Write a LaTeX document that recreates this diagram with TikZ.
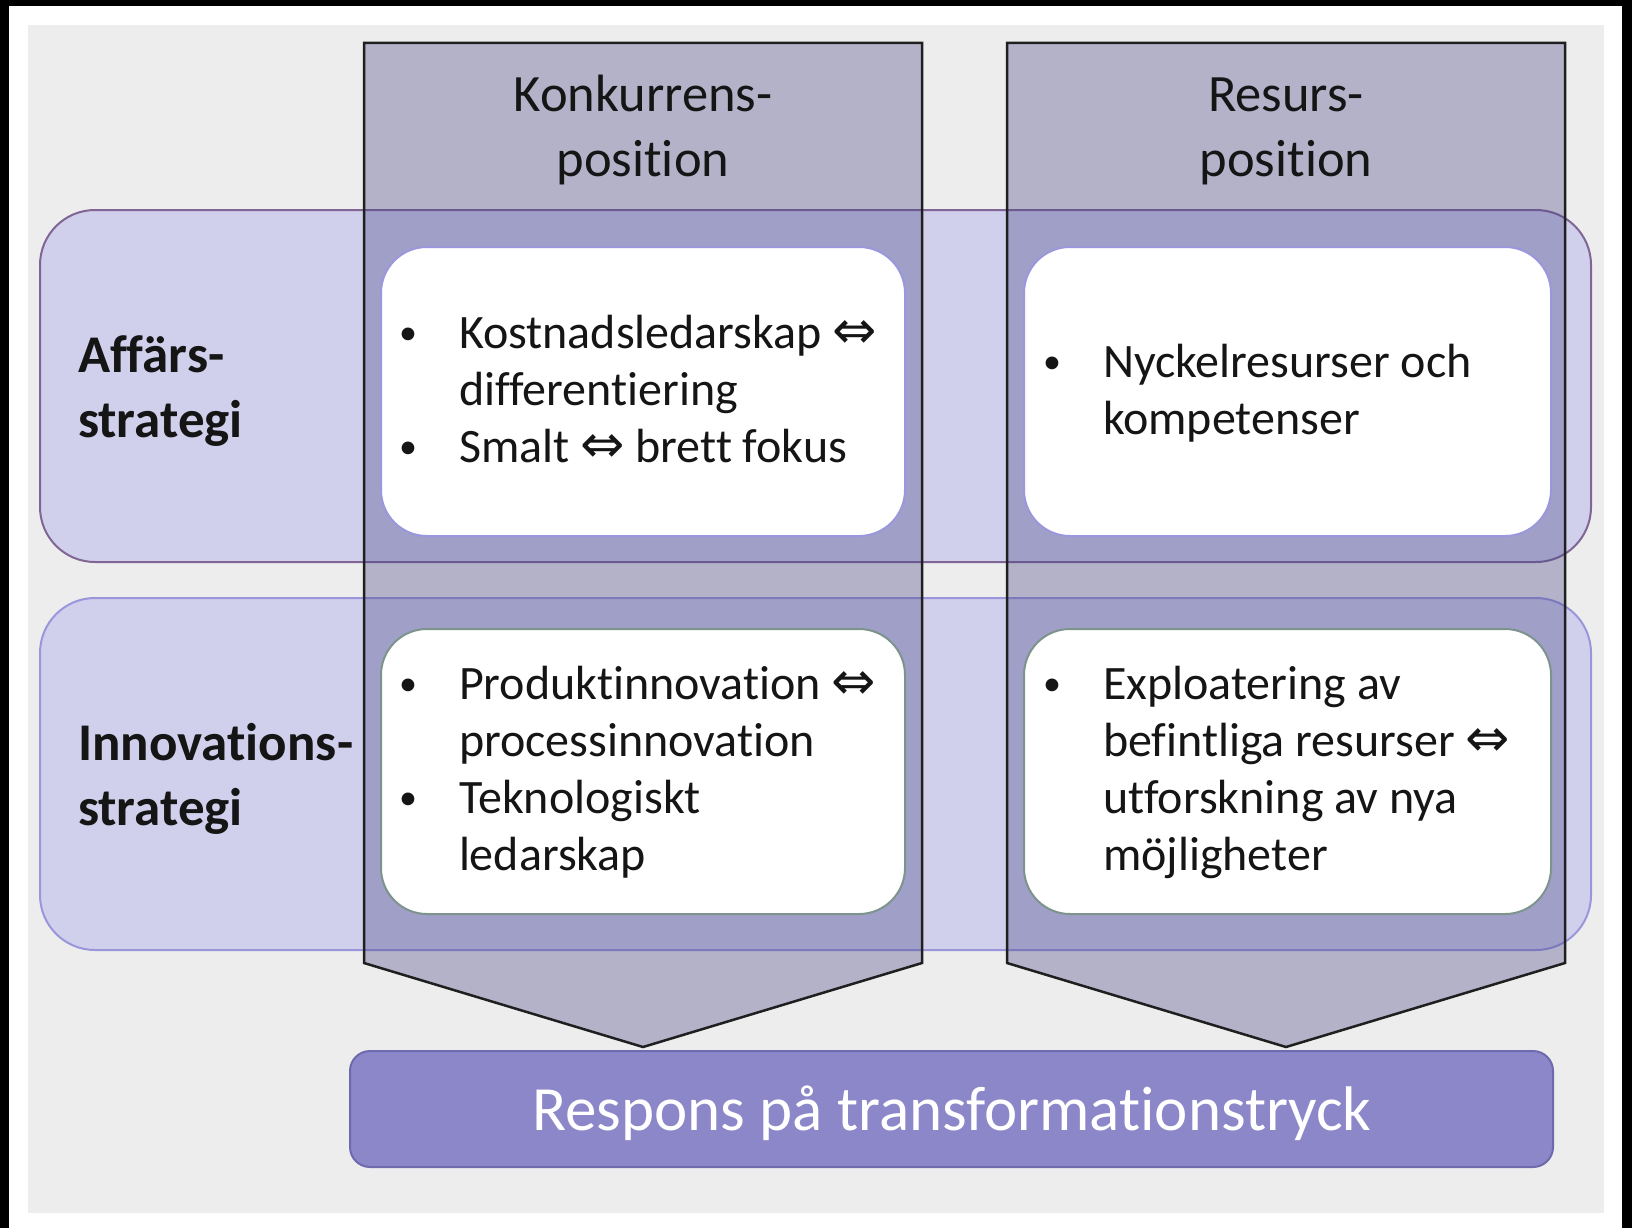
\documentclass[tikz,border=0pt]{standalone}
\usepackage{fontspec}
\usepackage{array}
\setmainfont{Carlito}[RawFeature={-liga;-clig;-dlig;-calt;-hlig;-ccmp}]
\newfontfamily\symfont{DejaVu Sans}
\newcommand{\dbl}{{\symfont\fontsize{53}{57}\selectfont ⇔}}
\newcommand{\blt}{\raisebox{4pt}{\fontsize{36}{57}\selectfont •}}
\definecolor{bggrey}{HTML}{EDEDED}
\definecolor{rowfill}{HTML}{D0D0EC}
\definecolor{rowAline}{HTML}{806595}
\definecolor{rowBline}{HTML}{9A96DC}
\definecolor{colfill}{RGB}{71,68,134}
\definecolor{wboxAline}{HTML}{9B97DC}
\definecolor{wboxBline}{HTML}{7D948C}
\definecolor{barfill}{HTML}{8B87C8}
\definecolor{barline}{HTML}{6E6AAE}
\definecolor{txtcol}{HTML}{151515}
\begin{document}
\begin{tikzpicture}[x=1pt,y=-1pt,
  rowbox/.style={fill=rowfill, line width=2pt, rounded corners=55pt},
  colbox/.style={fill=colfill, fill opacity=0.35, draw=black!88, line width=2.5pt, line join=miter},
  wbox/.style={fill=white, line width=2pt, rounded corners=46pt},
  barbox/.style={fill=barfill, draw=barline, line width=2pt, rounded corners=20pt},
  txt/.style={inner sep=0pt, outer sep=0pt, text=txtcol},
  bodytxt/.style={txt, anchor=base west, font=\fontsize{48}{57}\selectfont},
  hdrtxt/.style={txt, anchor=base, font=\fontsize{52.5}{65}\selectfont},
  lbltxt/.style={txt, anchor=base west, font=\fontsize{53}{65}\selectfont\bfseries},
  bartxt/.style={inner sep=0pt, outer sep=0pt, anchor=base, text=white, font=\fontsize{63}{76}\selectfont}]
\useasboundingbox (0,0) rectangle (1632,1228);
% frame and background
\fill[white] (0,0) rectangle (1632,1228);
\fill[black] (0,0) rectangle (9,1228);
\fill[black] (0,0) rectangle (1632,6);
\fill[black] (1622,0) rectangle (1632,1228);
\fill[bggrey] (28,25) rectangle (1604,1213);
% rows
\draw[rowbox, draw=rowAline] (40,210) rectangle (1591,562);
\draw[rowbox, draw=rowBline] (40,598) rectangle (1591,950);
% columns (chevron arrows)
\draw[colbox] (364,43) -- (922,43) -- (922,963) -- (643,1047) -- (364,963) -- cycle;
\draw[colbox] (1007,43) -- (1565,43) -- (1565,963) -- (1286,1047) -- (1007,963) -- cycle;
% white boxes
\draw[wbox, draw=wboxAline] (381,247) rectangle (905,536);
\draw[wbox, draw=wboxAline] (1024,247) rectangle (1551,536);
\draw[wbox, draw=wboxBline] (381,629) rectangle (905,914);
\draw[wbox, draw=wboxBline] (1024,629) rectangle (1551,914);
% bottom bar
\draw[barbox] (350,1051) rectangle (1553,1167);
% headers
\node[hdrtxt] (h1) at (643,112) {\begin{tabular}[t]{@{}c@{}}Konkurrens-\\position\end{tabular}};
\node[hdrtxt] (h2) at (1286,112) {\begin{tabular}[t]{@{}c@{}}Resurs-\\position\end{tabular}};
% row labels
\node[lbltxt] (l1) at (78,372) {\begin{tabular}[t]{@{}l@{}}Affärs-\\strategi\end{tabular}};
\node[lbltxt] (l2) at (78,760) {\begin{tabular}[t]{@{}l@{}}Innovations-\\strategi\end{tabular}};
% box texts
\node[bodytxt] (t1) at (399,348) {\begin{tabular}[t]{@{}p{60pt}@{}l@{}}\blt&Kostnadsledarskap \dbl\\ &differentiering\\ \blt&Smalt \dbl{} brett fokus\end{tabular}};
\node[bodytxt] (t2) at (1043,377) {\begin{tabular}[t]{@{}p{60pt}@{}l@{}}\blt&Nyckelresurser och\\ &kompetenser\end{tabular}};
\node[bodytxt] (t3) at (399,699) {\begin{tabular}[t]{@{}p{60pt}@{}l@{}}\blt&Produktinnovation \dbl\\ &processinnovation\\ \blt&Teknologiskt\\ &ledarskap\end{tabular}};
\node[bodytxt] (t4) at (1043,699) {\begin{tabular}[t]{@{}p{60pt}@{}l@{}}\blt&Exploatering av\\ &befintliga resurser \dbl\\ &utforskning av nya\\ &möjligheter\end{tabular}};
% bar text
\node[bartxt] (b) at (952,1130) {Respons på transformationstryck};
\end{tikzpicture}
\end{document}
